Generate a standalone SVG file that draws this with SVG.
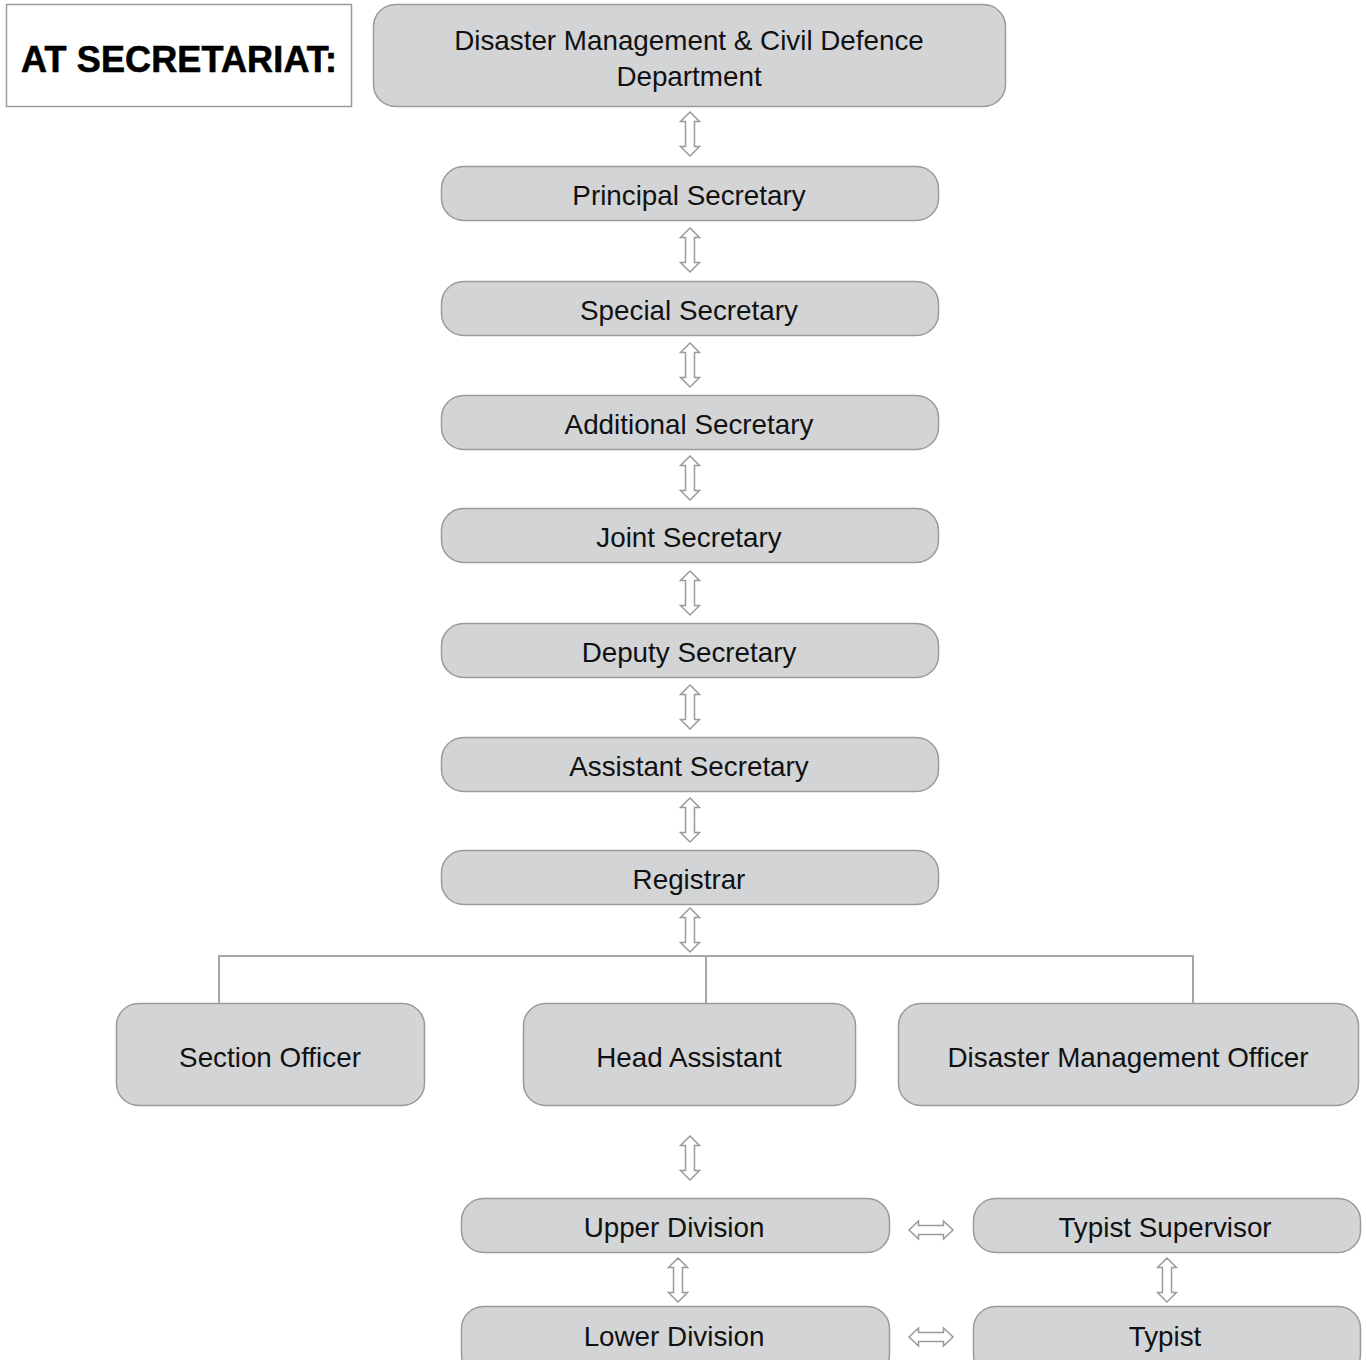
<svg xmlns="http://www.w3.org/2000/svg" width="1366" height="1360" viewBox="0 0 1366 1360">
<style>
.box{fill:#d3d4d6;stroke:#999a9c;stroke-width:1.5}
.t{font-family:"Liberation Sans",Arial,sans-serif;font-size:27.8px;fill:#111;text-anchor:middle}
.ar{fill:#fff;stroke:#999a9c;stroke-width:1.5;stroke-linejoin:miter}
.ln{stroke:#a5a6a8;stroke-width:2;fill:none}
</style>
<defs>
<path id="va" d="M0,-22 L9.5,-12.5 L4.5,-12.5 L4.5,12.5 L9.5,12.5 L0,22 L-9.5,12.5 L-4.5,12.5 L-4.5,-12.5 L-9.5,-12.5 Z"/>
<path id="ha" d="M-22,0 L-12.5,-9 L-12.5,-4.5 L12.5,-4.5 L12.5,-9 L22,0 L12.5,9 L12.5,4.5 L-12.5,4.5 L-12.5,9 Z"/>
</defs>
<rect width="1366" height="1360" fill="#fff"/>
<g id="title">
<rect x="6.5" y="4.5" width="345" height="102" fill="#fff" stroke="#999a9c" stroke-width="1.5"/>
<text x="179" y="72" font-family="Liberation Sans,Arial,sans-serif" font-weight="bold" font-size="36" fill="#000" stroke="#000" stroke-width="0.6" text-anchor="middle" textLength="316" lengthAdjust="spacing">AT SECRETARIAT:</text>
</g>
<g id="n-dept"><rect class="box" x="373.5" y="4.5" width="632" height="102" rx="22"/><text class="t" x="689" y="50">Disaster Management &amp; Civil Defence</text><text class="t" x="689" y="86">Department</text></g>
<g id="n-ps"><rect class="box" x="441.5" y="166.5" width="497" height="54" rx="22"/><text class="t" x="689" y="205">Principal Secretary</text></g>
<g id="n-ss"><rect class="box" x="441.5" y="281.5" width="497" height="54" rx="22"/><text class="t" x="689" y="320">Special Secretary</text></g>
<g id="n-as"><rect class="box" x="441.5" y="395.5" width="497" height="54" rx="22"/><text class="t" x="689" y="434">Additional Secretary</text></g>
<g id="n-js"><rect class="box" x="441.5" y="508.5" width="497" height="54" rx="22"/><text class="t" x="689" y="547">Joint Secretary</text></g>
<g id="n-ds"><rect class="box" x="441.5" y="623.5" width="497" height="54" rx="22"/><text class="t" x="689" y="662">Deputy Secretary</text></g>
<g id="n-ass"><rect class="box" x="441.5" y="737.5" width="497" height="54" rx="22"/><text class="t" x="689" y="776">Assistant Secretary</text></g>
<g id="n-reg"><rect class="box" x="441.5" y="850.5" width="497" height="54" rx="22"/><text class="t" x="689" y="889">Registrar</text></g>
<g id="n-so"><rect class="box" x="116.5" y="1003.5" width="308" height="102" rx="22"/><text class="t" x="270" y="1067">Section Officer</text></g>
<g id="n-ha"><rect class="box" x="523.5" y="1003.5" width="332" height="102" rx="22"/><text class="t" x="689" y="1067">Head Assistant</text></g>
<g id="n-dmo"><rect class="box" x="898.5" y="1003.5" width="460" height="102" rx="22"/><text class="t" x="1128" y="1067">Disaster Management Officer</text></g>
<g id="n-ud"><rect class="box" x="461.5" y="1198.5" width="428" height="54" rx="22"/><text class="t" x="674" y="1237">Upper Division</text></g>
<g id="n-tsup"><rect class="box" x="973.5" y="1198.5" width="387" height="54" rx="22"/><text class="t" x="1165" y="1237">Typist Supervisor</text></g>
<g id="n-ld"><rect class="box" x="461.5" y="1306.5" width="428" height="70" rx="22"/><text class="t" x="674" y="1346">Lower Division</text></g>
<g id="n-typ"><rect class="box" x="973.5" y="1306.5" width="387" height="70" rx="22"/><text class="t" x="1165" y="1346">Typist</text></g>
<g id="connectors">
<path class="ln" d="M219,1003 V956 H1193 V1003 M706,956 V1003"/>
<use href="#va" class="ar" x="690" y="134"/>
<use href="#va" class="ar" x="690" y="250"/>
<use href="#va" class="ar" x="690" y="365"/>
<use href="#va" class="ar" x="690" y="478"/>
<use href="#va" class="ar" x="690" y="593"/>
<use href="#va" class="ar" x="690" y="707"/>
<use href="#va" class="ar" x="690" y="820"/>
<use href="#va" class="ar" x="690" y="930"/>
<use href="#va" class="ar" x="690" y="1158"/>
<use href="#va" class="ar" x="678" y="1280"/>
<use href="#va" class="ar" x="1167" y="1280"/>
<use href="#ha" class="ar" x="931" y="1230"/>
<use href="#ha" class="ar" x="931" y="1337"/>
</g>
</svg>
